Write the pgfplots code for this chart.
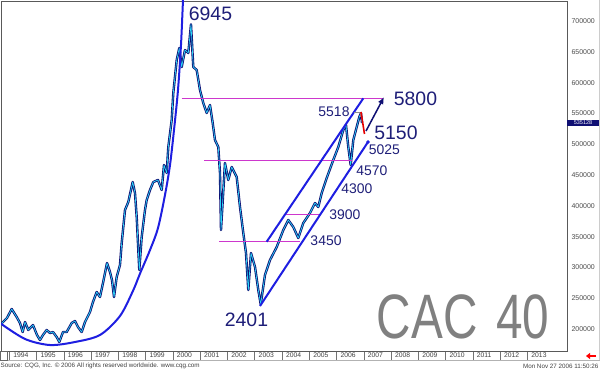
\documentclass[border=0pt]{standalone}
\usepackage{pgfplots}
\pgfplotsset{compat=1.18}
\usepackage{pgfplotstable}
\usepackage{fontspec}
\setmainfont{Liberation Sans}
\newfontfamily\cacfont[FakeStretch=0.76]{Liberation Sans}
\usetikzlibrary{arrows.meta}
\definecolor{pnavy}{RGB}{15,15,115}
\definecolor{pcyan}{RGB}{40,215,250}
\definecolor{chan}{RGB}{30,30,225}
\definecolor{mag}{RGB}{205,55,205}
\definecolor{labc}{RGB}{30,30,120}
\definecolor{cacgray}{RGB}{128,128,128}

\pgfplotstableread{
year val
1993.732 209700
1993.916 217900
1994.088 232500
1994.271 219500
1994.392 209700
1994.491 195100
1994.576 211400
1994.697 198400
1994.869 206500
1995.016 190300
1995.126 182100
1995.236 190300
1995.371 198400
1995.492 193500
1995.602 195100
1995.738 187000
1995.834 178900
1995.969 195100
1996.105 195100
1996.288 209700
1996.409 213000
1996.519 203200
1996.655 195100
1996.776 211400
1996.959 227600
1997.069 243800
1997.205 260100
1997.326 251900
1997.436 274700
1997.583 307100
1997.693 292500
1997.766 279500
1997.840 251900
1997.938 284400
1998.059 303900
1998.122 339600
1998.243 393200
1998.364 406200
1998.525 438600
1998.609 420800
1998.672 381800
1998.767 295800
1998.855 349400
1998.976 393200
1999.038 409400
1999.160 425700
1999.281 438600
1999.453 441900
1999.589 425700
1999.673 466200
1999.772 453300
1999.831 495500
1999.955 539300
2000.014 583100
2000.139 636700
2000.234 656200
2000.322 625300
2000.443 652900
2000.564 648100
2000.663 694500
2000.747 625300
2000.872 620500
2000.993 588000
2001.114 566900
2001.239 550700
2001.360 563600
2001.459 534400
2001.543 506800
2001.664 495500
2001.726 453300
2001.763 360700
2001.909 469500
2002.031 441900
2002.155 463000
2002.339 446800
2002.460 398100
2002.581 355800
2002.680 323400
2002.764 263300
2002.863 323400
2003.010 300700
2003.131 263300
2003.219 240100
2003.376 287700
2003.560 312000
2003.806 333100
2004.048 360700
2004.231 377000
2004.414 365600
2004.598 347700
2004.781 372100
2005.027 388300
2005.210 404500
2005.331 398100
2005.456 420800
2005.639 445100
2005.881 474400
2006.065 495500
2006.248 523100
2006.347 531200
2006.431 495500
2006.519 466200
2006.615 506800
2006.739 527900
2006.835 544200
2006.897 550700
2006.934 534400
}\pricedata

\pgfplotstableread{
year val
1993.659 209700
1994.576 183800
1995.492 174000
1996.409 178900
1997.326 190300
1998.059 221100
1998.536 262000
1998.793 290000
1999.160 328200
1999.453 364000
1999.709 417500
1999.893 466200
2000.040 523100
2000.186 588000
2000.296 661000
2000.370 734100
2000.406 766600
}\curvedata

\begin{document}
\begin{tikzpicture}
\begin{axis}[
  at={(0,0)}, anchor=south west,
  scale only axis, width=566bp, height=350bp,
  xmin=1993.696, xmax=2014.451, ymin=164300, ymax=732500,
  scaled x ticks=false, scaled y ticks=false,
  axis line style={black!65, line width=0.8bp},
  xtick={1994,1995,1996,1997,1998,1999,2000,2001,2002,2003,2004,2005,2006,2007,2008,2009,2010,2011,2012,2013},
  xticklabels={1994,1995,1996,1997,1998,1999,2000,2001,2002,2003,2004,2005,2006,2007,2008,2009,2010,2011,2012,2013},
  xtick pos=lower, tick align=outside, major tick length=9bp,
  xtick style={black!55, line width=0.5bp},
  xticklabel style={font=\fontsize{6.8}{8}\selectfont, text=black!75, anchor=west, xshift=0.5bp, yshift=4.8bp},
  ytick={200000,250000,300000,350000,400000,450000,500000,550000,600000,650000,700000},
  yticklabels={200000,250000,300000,350000,400000,450000,500000,550000,600000,650000,700000},
  ytick pos=right, yticklabel pos=right,
  ytick style={draw=none},
  yticklabel style={font=\fontsize{7}{8}\selectfont, text=black!70, anchor=west, xshift=-8bp},
  clip=true,
]
% price
\addplot[pnavy, line width=2.4bp, line join=round] table[x=year,y=val]{\pricedata};
\addplot[pcyan, line width=0.7bp, line join=round] table[x=year,y=val]{\pricedata};
% big curve
\addplot[chan, line width=2bp, smooth, tension=0.5] table[x=year,y=val]{\curvedata};
% magenta levels
\addplot[mag, line width=1bp] coordinates {(2000.322,575000) (2007.704,575000)};
\addplot[mag, line width=1bp] coordinates {(2001.140,474300) (2006.567,474300)};
\addplot[mag, line width=1bp] coordinates {(2001.690,341700) (2004.660,341700)};
\addplot[mag, line width=1bp] coordinates {(2004.073,386200) (2005.393,386200)};
% channel
\addplot[chan, line width=2bp] coordinates {(2003.193,237300) (2007.154,503600)};
\addplot[chan, only marks, mark=*, mark size=1.5bp] coordinates {(2007.154,503600)};
\addplot[chan, line width=2bp] coordinates {(2003.439,341700) (2006.981,574500)};
% 5518 marker
\addplot[black!45, line width=0.8bp] coordinates {(2006.650,552300) (2006.860,552300) (2006.860,544200)};
% red and projection arrow
\addplot[red!90!black, line width=1.6bp] coordinates {(2006.897,552300) (2007.025,516600)};
\addplot[pnavy, line width=1.5bp, -{Latex[length=7bp,width=6bp]}] coordinates {(2007.080,521400) (2007.740,576600)};
% labels
\node[text=labc, inner sep=0pt, font=\fontsize{19.5}{20}\selectfont] at (axis cs:2001.378,711400) {6945};
\node[text=labc, inner sep=0pt, font=\fontsize{19.5}{20}\selectfont] at (axis cs:2002.698,214600) {2401};
\node[text=labc, inner sep=0pt, font=\fontsize{19.5}{20}\selectfont] at (axis cs:2008.895,573400) {5800};
\node[text=labc, inner sep=0pt, font=\fontsize{19.5}{20}\selectfont] at (axis cs:2008.180,519200) {5150};
\node[text=labc, inner sep=0pt, font=\fontsize{14}{15}\selectfont] at (axis cs:2005.907,552300) {5518};
\node[text=labc, inner sep=0pt, font=\fontsize{14}{15}\selectfont] at (axis cs:2007.758,490600) {5025};
\node[text=labc, inner sep=0pt, font=\fontsize{14}{15}\selectfont] at (axis cs:2007.300,456500) {4570};
\node[text=labc, inner sep=0pt, font=\fontsize{14}{15}\selectfont] at (axis cs:2006.750,427300) {4300};
\node[text=labc, inner sep=0pt, font=\fontsize{14}{15}\selectfont] at (axis cs:2006.310,385900) {3900};
\node[text=labc, inner sep=0pt, font=\fontsize{14}{15}\selectfont] at (axis cs:2005.614,342900) {3450};
\node[text=cacgray, font=\cacfont\fontsize{63}{63}\selectfont, inner sep=0pt] at (axis cs:2010.64,219000) {CAC\hspace{0.3em}40};
\end{axis}
% outside decorations (1bp = 1px; px -> (px-1)bp, py -> (351-py)bp)
\draw[black!30, line width=0.5bp] (-1bp,-9bp) -- (599bp,-9bp);
\draw[black!60, line width=0.6bp] (-0.5bp,-9bp) rectangle (6bp,0bp);
\draw[black!20, line width=0.5bp] (598bp,-9bp) -- (598bp,351bp);
\fill[pnavy] (566bp,225bp) rectangle (598bp,231bp);
\node[text=white, font=\fontsize{5.5}{6}\selectfont, inner sep=0pt] at (582bp,228bp) {535128};
\draw[red, line width=2.2bp, -{Triangle[length=4bp,width=6bp]}] (595bp,-5bp) -- (585bp,-5bp);
\node[anchor=west, inner sep=0pt, font=\fontsize{6.3}{7}\selectfont, text=black!75] at (-0.5bp,-15bp) {Source: CQG, Inc. \textcopyright{} 2006 All rights reserved worldwide. www.cqg.com};
\node[anchor=east, inner sep=0pt, font=\fontsize{6.3}{7}\selectfont, text=black!75] at (597.5bp,-15bp) {Mon Nov 27 2006 11:50:26};
\pgfresetboundingbox
\path[use as bounding box] (-1bp,-19bp) rectangle (599bp,351bp);
\end{tikzpicture}
\end{document}
